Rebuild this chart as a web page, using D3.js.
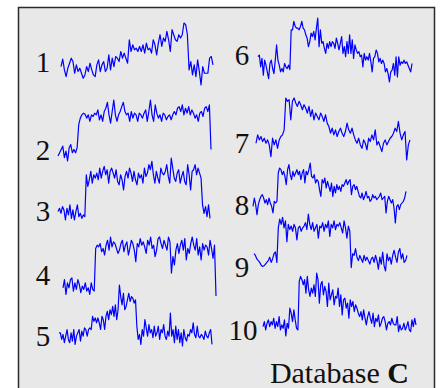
<!DOCTYPE html>
<html>
<head>
<meta charset="utf-8">
<script src="https://cdn.jsdelivr.net/npm/d3@7"></script>
<style>
  body { margin: 0; background: #fff; }
  svg { display: block; }
</style>
</head>
<body>
<div id="chart"></div>
<script>
// series values (arbitrary amplitude units, higher = up)
const s1 = [60,82,50,30,55,70,85,75,40,65,45,55,40,25,35,60,45,70,50,35,30,65,80,45,65,75,45,55,95,50,85,60,90,85,75,105,85,100,85,70,140,105,125,110,115,105,120,105,125,100,130,110,115,100,140,125,95,130,155,120,145,135,165,140,105,170,155,140,135,155,145,155,190,185,155,50,75,35,65,30,80,45,5,60,40,40,40,85,90,65];
const s2 = [40,50,60,70,35,55,25,65,75,50,60,50,65,
  135,155,165,170,167,155,165,145,165,160,170,165,180,150,165,145,175,185,203,165,140,175,210,165,145,165,175,190,203,175,165,170,145,175,155,170,165,145,170,165,155,170,180,145,175,210,165,145,195,170,155,165,145,170,165,150,160,165,150,165,175,165,185,190,175,195,165,185,170,190,165,180,170,155,165,145,170,175,160,185,190,175,195,
  60];
const s3 = [40,50,35,55,45,15,50,30,60,20,45,15,40,60,25,35,20,30,25,
  150,115,135,160,125,150,140,155,135,170,140,160,175,150,165,125,160,170,155,140,165,130,120,150,135,105,145,160,140,170,155,130,160,135,120,155,140,150,125,170,145,155,180,165,190,150,125,160,140,125,170,155,150,160,180,145,125,200,170,140,130,155,165,125,145,160,130,120,180,150,105,160,165,180,150,170,155,140,
  60,35,55,25,60,20];
const s4 = [125,150,105,140,125,150,155,115,140,120,150,135,110,130,120,140,115,125,105,140,120,115,
  245,255,250,260,235,245,225,255,270,240,280,250,265,260,245,230,240,260,270,235,255,265,225,245,270,260,240,205,260,250,275,255,265,250,230,270,255,280,245,255,220,240,275,280,260,245,270,255,240,280,265,170,220,195,240,260,230,255,270,240,275,210,245,230,260,280,255,240,275,225,250,210,260,240,255,250,225,270,245,215,255,
  100];
const s5 = [50,50,30,45,20,40,60,30,20,50,25,60,15,40,50,60,25,55,40,65,60,40,60,65,60,100,85,95,80,95,80,60,100,90,60,100,115,90,120,105,130,100,135,90,120,195,160,135,170,120,130,150,170,145,160,155,140,150,70,30,45,15,60,40,90,65,40,75,50,60,35,70,40,50,70,30,60,50,75,40,30,55,40,110,40,60,20,70,30,60,20,50,10,60,35,25,45,40,60,50,80,45,35,70,40,35,45,40,30,55,40,35,50,60,15];
const s6 = [90,95,60,85,35,80,65,45,25,70,80,55,40,80,125,80,65,45,55,45,70,60,55,65,52,170,170,195,180,175,175,170,180,195,175,170,155,145,120,135,160,150,165,140,175,205,120,170,130,135,115,100,130,115,135,120,135,130,115,145,130,110,130,150,100,120,90,135,100,155,100,140,85,125,110,100,105,90,95,60,100,80,90,80,100,75,45,85,90,110,100,75,85,70,80,70,45,55,40,15,45,50,70,35,90,30,90,65,75,70,80,70,75,65,55,45,70];
const s7 = [80,105,90,100,85,95,80,90,75,40,95,75,90,65,90,100,105,120,
  215,205,210,150,205,215,200,190,205,195,180,195,185,170,190,160,180,150,170,160,150,170,160,145,165,140,
  130,110,125,105,120,100,115,125,110,100,115,140,120,110,125,105,90,80,95,75,65,90,80,60,95,85,105,90,120,75,85,70,55,80,90,75,85,95,100,110,125,115,145,110,90,105,115,30,75,90];
const s8 = [65,90,70,40,70,85,95,100,90,75,85,70,90,75,65,45,80,75,80,165,180,175,160,170,155,130,175,190,160,145,170,155,165,175,160,170,145,165,175,135,170,160,175,195,155,150,160,135,145,140,115,95,145,135,150,120,140,125,110,135,95,125,105,130,115,125,110,130,125,135,145,130,140,145,100,125,130,115,125,110,95,90,105,85,95,110,90,95,80,85,100,90,95,85,90,95,105,85,90,95,45,80,95,85,75,85,60,15,65,70,55,70,75,80,90,110];
const s9 = [75,70,60,55,50,42,38,40,45,50,55,65,50,60,75,80,50,
  150,175,160,180,150,170,110,160,145,155,140,160,150,115,150,155,140,150,155,165,145,190,160,145,165,140,150,160,120,155,150,165,140,160,150,170,125,160,150,170,145,160,155,165,150,135,170,150,120,155,140,
  35,75,70,90,65,55,70,60,50,70,55,65,55,45,60,65,50,70,55,30,65,45,80,40,25,75,55,65,45,70,85,65,50,80,90,60,75,50,55,70];
const s10 = [40,55,30,50,60,40,55,45,65,35,55,40,70,30,45,35,60,12,50,35,95,80,55,90,60,35,30,175,190,180,165,180,140,190,150,130,155,140,165,130,200,180,110,165,175,135,160,145,100,170,120,135,150,105,130,125,155,100,135,75,120,125,95,110,65,120,100,115,85,105,95,80,70,85,60,90,65,45,70,85,65,50,80,40,65,55,75,40,50,65,70,55,30,50,55,45,65,50,45,45,70,25,45,30,35,50,30,40,55,30,25,60,40,65,45];

const seriesValues = [s1, s2, s3, s4, s5, s6, s7, s8, s9, s10];
const seriesLabels = ['1', '2', '3', '4', '5', '6', '7', '8', '9', '10'];

// layout: pixel box of each small plot [x0, x1, yTop, yBottom] and label baseline
const boxes = [
  [61, 213, 23, 85], [58, 211, 100, 161], [58, 210, 158, 220], [63, 216, 237, 296], [59, 212, 285, 346],
  [258, 412, 18, 82], [256, 410, 98, 160], [253, 406, 163, 223], [254, 407, 214, 271], [263, 416, 273, 336],
];
const labelPos = [
  [43, 72], [43, 160], [43, 221], [43, 285], [43, 346],
  [242, 65], [242, 153], [242, 215], [242, 277], [243, 340],
];

const width = 444, height = 388;
const serif = '"Liberation Serif", "Times New Roman", Times, serif';

const svg = d3.select('#chart').append('svg')
  .attr('width', width)
  .attr('height', height);

svg.append('rect')
  .attr('x', 18.5).attr('y', 7.5)
  .attr('width', 416).attr('height', 400)
  .attr('fill', '#e8e8e8')
  .attr('stroke', '#2a2a2a')
  .attr('stroke-width', 1.5);

seriesValues.forEach((vals, i) => {
  const [x0, x1, yTop, yBottom] = boxes[i];
  const x = d3.scaleLinear().domain([0, vals.length - 1]).range([x0, x1]);
  const y = d3.scaleLinear().domain(d3.extent(vals)).range([yBottom, yTop]);
  const line = d3.line()
    .x((d, j) => x(j))
    .y(d => y(d));

  svg.append('path')
    .datum(vals)
    .attr('d', line)
    .attr('fill', 'none')
    .attr('stroke', '#0000ff')
    .attr('stroke-width', 1.2)
    .attr('stroke-linejoin', 'round');

  svg.append('text')
    .attr('x', labelPos[i][0])
    .attr('y', labelPos[i][1])
    .attr('text-anchor', 'middle')
    .attr('font-family', serif)
    .attr('font-size', 29)
    .attr('fill', '#111')
    .text(seriesLabels[i]);
});

const title = svg.append('text')
  .attr('x', 409)
  .attr('y', 383)
  .attr('text-anchor', 'end')
  .attr('font-family', serif)
  .attr('font-size', 30)
  .attr('fill', '#111');
title.append('tspan').text('Database ');
title.append('tspan').attr('font-weight', 'bold').text('C');
</script>
</body>
</html>
